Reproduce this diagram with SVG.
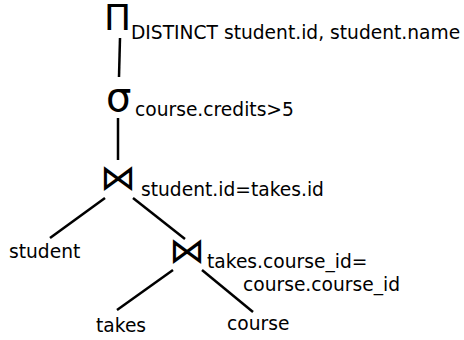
<svg xmlns="http://www.w3.org/2000/svg" width="464" height="340" viewBox="0 0 464 340">
<style>
.t{font-family:"DejaVu Sans",sans-serif;font-size:18.67px;fill:#000}
.op{font-family:"DejaVu Sans",sans-serif;fill:#000}
.e{stroke:#000;stroke-width:2.5;fill:none;stroke-linecap:butt}
</style>
<rect width="464" height="340" fill="#fff"/>
<g id="edges">
<line class="e" x1="120" y1="38" x2="119" y2="77"/>
<line class="e" x1="118" y1="118" x2="118" y2="160"/>
<line class="e" x1="105" y1="198" x2="50" y2="238"/>
<line class="e" x1="133" y1="198" x2="185" y2="239"/>
<line class="e" x1="173" y1="270" x2="117" y2="310"/>
<line class="e" x1="202" y1="270" x2="253" y2="312"/>
</g>
<g id="project">
<text class="op" x="104" y="30" font-size="36">Π</text>
<text class="t" x="131" y="39">DISTINCT student.id, student.name</text>
</g>
<g id="select">
<text class="op" x="106" y="111" font-size="40">σ</text>
<text class="t" x="135" y="116">course.credits&gt;5</text>
</g>
<g id="join1">
<text class="op" x="100" y="190" font-size="36">⋈</text>
<text class="t" x="141" y="196">student.id=takes.id</text>
</g>
<g id="student"><text class="t" x="9" y="258">student</text></g>
<g id="join2">
<text class="op" x="169" y="263" font-size="36">⋈</text>
<text class="t" x="207" y="268">takes.course_id=</text>
<text class="t" x="243" y="291">course.course_id</text>
</g>
<g id="takes"><text class="t" x="96" y="332">takes</text></g>
<g id="course"><text class="t" x="227" y="330">course</text></g>
</svg>
